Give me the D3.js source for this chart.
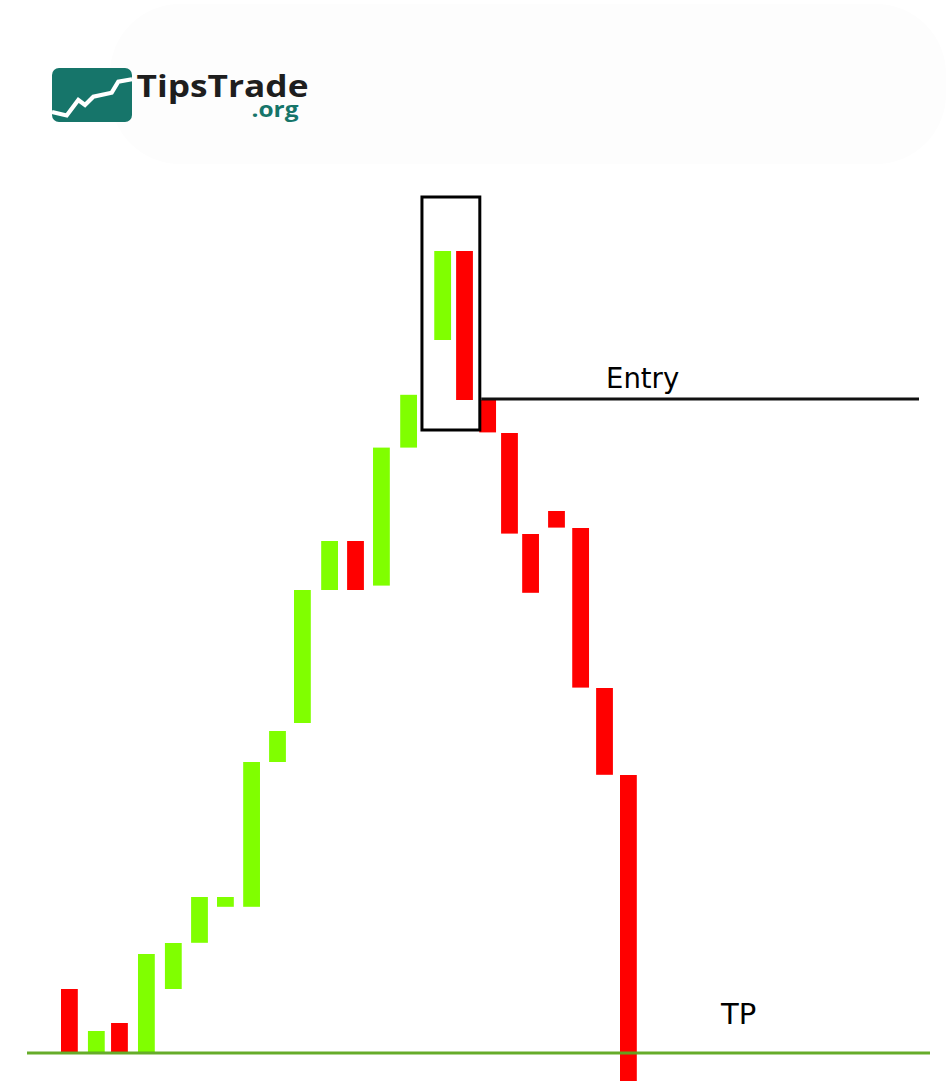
<!DOCTYPE html>
<html><head><meta charset="utf-8">
<script src="https://cdn.jsdelivr.net/npm/d3@7"></script>
<style>html,body{margin:0;padding:0;background:#fff;}svg{display:block}</style>
</head><body>
<svg id="chart" width="948" height="1081"></svg>
<script>
// ---- data ----
const candleSlot  = [0,1.06,1.97,3.03,4.09,5.12,6.14,7.17,8.19,9.17,10.24,11.26,12.28,13.35,14.69,15.55,16.46,17.32,18.15,19.17,20.12,21.06,22.0];
const candleOpen  = [115.75,100,107.25,100,115.75,127.3,136.3,136.3,172.5,182.25,215.5,227.75,216.6,251.1,278,300.25,263,254.75,229.5,235.25,231,191,169.25];
const candleClose = [100,105.25,100,124.5,127.25,138.75,138.75,172.5,180.25,215.5,227.75,215.5,251.1,264.3,300.25,263,254.9,229.6,214.8,231.1,191.1,169.3,90];
const entryLevel = 263.25;
const tpLevel = 99.75;
const boxHigh = 313.75;
const boxLow = 255.5;
const boxCandles = [14, 15];
const entryLabel = "Entry";
const tpLabel = "TP";
const brandName = "TipsTrade";
const brandSuffix = ".org";

const candles = candleSlot.map((s, i) => ({slot: s, open: candleOpen[i], close: candleClose[i]}));

// ---- layout ----
const candleW = 16.8;
const svg = d3.select("#chart");

const x = d3.scaleLinear().domain([0, 22]).range([69.4, 628.4]);
const y = d3.scaleLinear().domain([100, 300]).range([1052, 252]);

// very faint background blob behind logo
svg.append("rect").attr("x", 110).attr("y", 4).attr("width", 836).attr("height", 160)
  .attr("rx", 70).attr("fill", "#fdfdfd");

// logo
const logo = svg.append("g");
logo.append("rect").attr("x", 52).attr("y", 68).attr("width", 80).attr("height", 54)
  .attr("rx", 7).attr("fill", "#16756a");
const zig = [[52,112],[66.7,115.5],[78.3,100],[85,105],[93.3,96.7],[111.7,92.7],[118.3,81.7],[132,79.3]];
logo.append("path").attr("d", d3.line()(zig)).attr("fill", "none")
  .attr("stroke", "#fff").attr("stroke-width", 4.2).attr("stroke-linejoin", "miter");
logo.append("text").attr("x", 136.5).attr("y", 96.5)
  .attr("font-family", "'Open Sans', 'DejaVu Sans', sans-serif").attr("font-weight", 700)
  .attr("font-size", 30).attr("fill", "#1e1e1e")
  .attr("textLength", 172).attr("lengthAdjust", "spacingAndGlyphs").text(brandName);
logo.append("text").attr("x", 251.5).attr("y", 117)
  .attr("font-family", "'Open Sans', 'DejaVu Sans', sans-serif").attr("font-weight", 700)
  .attr("font-size", 21).attr("fill", "#16756a")
  .attr("textLength", 47).attr("lengthAdjust", "spacingAndGlyphs").text(brandSuffix);

// candles
svg.append("g").selectAll("rect").data(candles).join("rect")
  .attr("x", d => x(d.slot) - candleW / 2)
  .attr("width", candleW)
  .attr("y", d => y(Math.max(d.open, d.close)))
  .attr("height", d => Math.abs(y(d.open) - y(d.close)))
  .attr("fill", d => d.close >= d.open ? "#80ff00" : "#ff0000");

// highlight box
const bx0 = x(candleSlot[boxCandles[0]]) - candleW / 2 - 12.3;
const bx1 = x(candleSlot[boxCandles[1]]) + candleW / 2 + 6.9;
svg.append("rect").attr("x", bx0).attr("y", y(boxHigh))
  .attr("width", bx1 - bx0).attr("height", y(boxLow) - y(boxHigh))
  .attr("fill", "none").attr("stroke", "#000").attr("stroke-width", 3);

// entry line + label
svg.append("line").attr("x1", bx1 + 1.4).attr("x2", 919)
  .attr("y1", y(entryLevel)).attr("y2", y(entryLevel))
  .attr("stroke", "#111").attr("stroke-width", 2.8);
svg.append("text").attr("x", 606).attr("y", y(entryLevel) - 11.3)
  .attr("font-family", "'DejaVu Sans', sans-serif").attr("font-size", 27.5)
  .attr("fill", "#000").text(entryLabel);

// TP line + label
svg.append("line").attr("x1", 27).attr("x2", 930)
  .attr("y1", y(tpLevel)).attr("y2", y(tpLevel))
  .attr("stroke", "#5ea81f").attr("stroke-width", 2.8).attr("stroke-opacity", 0.95);
svg.append("text").attr("x", 721).attr("y", 1024)
  .attr("font-family", "'DejaVu Sans', sans-serif").attr("font-size", 29)
  .attr("fill", "#000").text(tpLabel);
</script>
</body></html>
